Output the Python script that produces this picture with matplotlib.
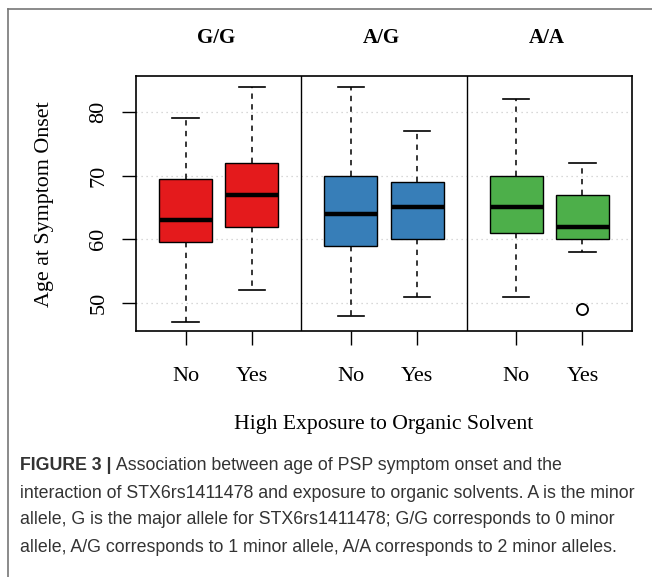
import matplotlib
matplotlib.use("Agg")
import matplotlib.pyplot as plt
from matplotlib.lines import Line2D

# genotype panels and exposure groups
genotypes = ["G/G", "A/G", "A/A"]
exposure = ["No", "Yes"]
colors = ["#E41A1C", "#377EB8", "#4DAF4A"]

# box stats, order: G/G No, G/G Yes, A/G No, A/G Yes, A/A No, A/A Yes
whislo = [47, 52, 48, 51, 51, 58]
q1 = [59.5, 62, 59, 60, 61, 60]
med = [63, 67, 64, 65, 65, 62]
q3 = [69.5, 72, 70, 69, 70, 67]
whishi = [79, 84, 84, 77, 82, 72]
fliers = [[], [], [], [], [], [49]]

caption_bold = "FIGURE 3 |"
caption_lines = [
    " Association between age of PSP symptom onset and the",
    "interaction of STX6rs1411478 and exposure to organic solvents. A is the minor",
    "allele, G is the major allele for STX6rs1411478; G/G corresponds to 0 minor",
    "allele, A/G corresponds to 1 minor allele, A/A corresponds to 2 minor alleles.",
]

serif = ["Liberation Serif", "DejaVu Serif"]
sans = ["Liberation Sans", "DejaVu Sans"]

fig = plt.figure(figsize=(6.52, 5.77), dpi=100)
ax = fig.add_axes([136 / 652, 1 - 331 / 577, 496 / 652, 255 / 577])

panel_w = 2.5
positions = []
for k in range(len(genotypes)):
    positions += [0.75 + panel_w * k, 1.75 + panel_w * k]

stats = []
for i in range(len(med)):
    stats.append(dict(whislo=whislo[i], q1=q1[i], med=med[i], q3=q3[i],
                      whishi=whishi[i], fliers=fliers[i]))

bp = ax.bxp(stats, positions=positions, widths=0.8, patch_artist=True,
            boxprops=dict(edgecolor="black", linewidth=1.0),
            medianprops=dict(color="black", linewidth=3.2, solid_capstyle="butt"),
            whiskerprops=dict(color="black", linewidth=1.1, linestyle=(0, (3.5, 3.5))),
            capprops=dict(color="black", linewidth=1.2),
            capwidths=0.4,
            flierprops=dict(marker="o", markerfacecolor="white", markeredgecolor="black",
                            markersize=8, markeredgewidth=1.3))
for i, box in enumerate(bp["boxes"]):
    box.set_facecolor(colors[i // 2])
    box.set_zorder(3)
for m in bp["medians"]:
    m.set_zorder(4)

for y in [50, 60, 70, 80]:
    ax.axhline(y, color="#cccccc", linestyle=(0, (1, 3)), linewidth=0.9, zorder=0)
for k in range(1, len(genotypes)):
    ax.axvline(panel_w * k, color="black", linewidth=1.0)

ax.set_xlim(0, panel_w * len(genotypes))
ax.set_ylim(45.6, 85.65)
ax.set_xticks(positions)
ax.set_xticklabels(exposure * len(genotypes), fontfamily=serif, fontsize=16)
ax.set_yticks([50, 60, 70, 80])
ax.set_yticklabels(["50", "60", "70", "80"], fontfamily=serif, fontsize=16,
                   rotation=90, va="center")
ax.tick_params(axis="both", length=10, width=1.0, color="black")
ax.tick_params(axis="y", pad=10)
ax.tick_params(axis="x", pad=16)
for s in ax.spines.values():
    s.set_linewidth(1.2)

for k, g in enumerate(genotypes):
    ax.text(panel_w * (k + 0.5) - 0.04, 1.148, g, transform=ax.get_xaxis_transform(),
            ha="center", va="center", fontfamily=serif, fontsize=15, fontweight="bold")

fig.text(45 / 652, 1 - 204 / 577, "Age at Symptom Onset", rotation=90, ha="center",
         va="center", fontfamily=serif, fontsize=15.8)
fig.text(384 / 652, 1 - 424 / 577, "High Exposure to Organic Solvent", ha="center",
         va="center", fontfamily=serif, fontsize=15.6)

# caption: bold lead then regular text
cap_color = "#333333"
x0 = 20 / 652
line_ys = [466, 493, 520, 547]
t = fig.text(x0, 1 - line_ys[0] / 577, caption_bold, ha="left", va="center",
             fontfamily=sans, fontsize=12.75, fontweight="bold", color=cap_color)
fig.canvas.draw()
bb = t.get_window_extent(renderer=fig.canvas.get_renderer())
x1 = bb.x1 / fig.bbox.width
for i, line in enumerate(caption_lines):
    fig.text(x1 if i == 0 else x0, 1 - line_ys[i] / 577, line, ha="left", va="center",
             fontfamily=sans, fontsize=12.75, color=cap_color)

# outer frame (left and top edges)
fig.add_artist(Line2D([8 / 652, 8 / 652], [0, 1 - 9 / 577], transform=fig.transFigure,
                      color="#777777", linewidth=1.2))
fig.add_artist(Line2D([8 / 652, 1], [1 - 9 / 577, 1 - 9 / 577], transform=fig.transFigure,
                      color="#777777", linewidth=1.2))

fig.savefig("out.png", dpi=100)
